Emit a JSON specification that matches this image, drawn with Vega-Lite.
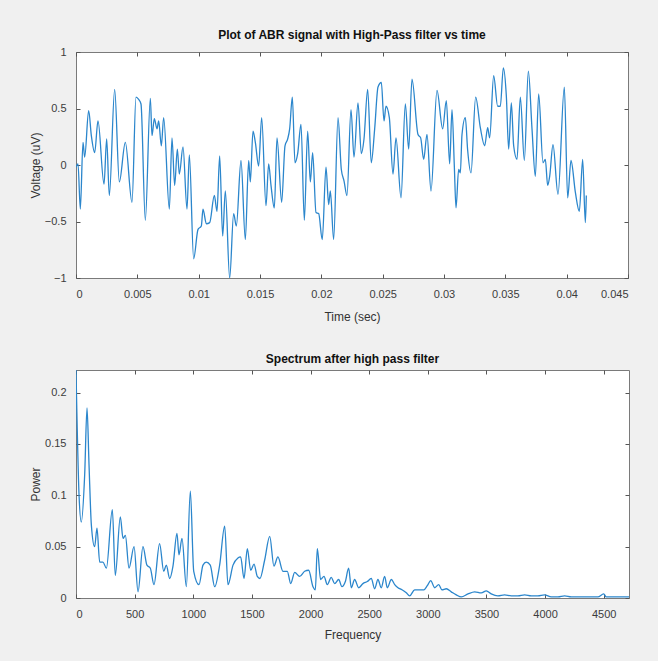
{
  "$schema": "https://vega.github.io/schema/vega-lite/v6.json",
  "background": "#f0f0f0",
  "padding": {"left": 28, "top": 28, "right": 28, "bottom": 21},
  "spacing": 29,
  "config": {
    "font": "Liberation Sans",
    "view": {"stroke": "#7a7a7a", "strokeWidth": 1, "fill": "white"},
    "axis": {
      "grid": false,
      "domain": false,
      "tickColor": "#555555",
      "tickSize": -4,
      "labelPadding": 14,
      "labelColor": "#3c3c3c",
      "labelFont": "Liberation Sans",
      "labelFontSize": 11,
      "titleFont": "Liberation Sans",
      "titleFontSize": 12,
      "titleFontWeight": "normal",
      "titleColor": "#333333"
    },
    "title": {"font": "Liberation Sans", "fontSize": 12, "fontWeight": "bold", "color": "#111111", "offset": 4}
  },
  "datasets": {
    "signal": [
      {"t": 0, "v": -0.02}, {"t": 0.000163, "v": 0.01}, {"t": 0.000353, "v": -0.39}, {"t": 0.000571, "v": 0.2},
      {"t": 0.000707, "v": 0.07}, {"t": 0.001033, "v": 0.48}, {"t": 0.00125, "v": 0.26}, {"t": 0.001522, "v": 0.11},
      {"t": 0.001793, "v": 0.39}, {"t": 0.002283, "v": -0.17}, {"t": 0.0025, "v": 0.23}, {"t": 0.002717, "v": -0.27},
      {"t": 0.003152, "v": 0.67}, {"t": 0.003533, "v": -0.15}, {"t": 0.004022, "v": 0.2}, {"t": 0.004565, "v": -0.33},
      {"t": 0.004891, "v": 0.6}, {"t": 0.005109, "v": 0.58}, {"t": 0.005299, "v": 0.54}, {"t": 0.005652, "v": -0.49},
      {"t": 0.00606, "v": 0.59}, {"t": 0.006196, "v": 0.26}, {"t": 0.006386, "v": 0.41}, {"t": 0.006603, "v": 0.32},
      {"t": 0.006739, "v": 0.39}, {"t": 0.006957, "v": 0.17}, {"t": 0.007147, "v": 0.42}, {"t": 0.007609, "v": -0.39},
      {"t": 0.007826, "v": 0.24}, {"t": 0.008043, "v": -0.18}, {"t": 0.008261, "v": 0.14}, {"t": 0.008424, "v": -0.08},
      {"t": 0.008723, "v": 0.16}, {"t": 0.009049, "v": -0.39}, {"t": 0.009239, "v": 0.09}, {"t": 0.009592, "v": -0.83},
      {"t": 0.009946, "v": -0.57}, {"t": 0.010217, "v": -0.54}, {"t": 0.010353, "v": -0.39}, {"t": 0.010625, "v": -0.52},
      {"t": 0.010897, "v": -0.51}, {"t": 0.011277, "v": -0.27}, {"t": 0.011495, "v": -0.41}, {"t": 0.011712, "v": 0.08},
      {"t": 0.011957, "v": -0.63}, {"t": 0.012174, "v": -0.23}, {"t": 0.012527, "v": -1.0}, {"t": 0.012853, "v": -0.43},
      {"t": 0.013071, "v": -0.54}, {"t": 0.013451, "v": 0.04}, {"t": 0.013804, "v": -0.66}, {"t": 0.014076, "v": 0.04},
      {"t": 0.014212, "v": -0.15}, {"t": 0.014429, "v": 0.3}, {"t": 0.01462, "v": 0.2}, {"t": 0.014891, "v": -0.01},
      {"t": 0.015136, "v": 0.42}, {"t": 0.015489, "v": -0.36}, {"t": 0.015706, "v": 0.01}, {"t": 0.015897, "v": -0.18},
      {"t": 0.016168, "v": -0.38}, {"t": 0.016386, "v": 0.24}, {"t": 0.016766, "v": -0.33}, {"t": 0.017038, "v": 0.17},
      {"t": 0.017255, "v": 0.23}, {"t": 0.017418, "v": 0.32}, {"t": 0.017636, "v": 0.6}, {"t": 0.017853, "v": 0.02},
      {"t": 0.018071, "v": 0.1}, {"t": 0.018342, "v": 0.36}, {"t": 0.018614, "v": -0.49}, {"t": 0.018886, "v": 0.3},
      {"t": 0.019103, "v": -0.15}, {"t": 0.019293, "v": 0.11}, {"t": 0.019565, "v": -0.42}, {"t": 0.019783, "v": -0.43},
      {"t": 0.020076, "v": -0.66}, {"t": 0.02038, "v": -0.02}, {"t": 0.020598, "v": -0.35}, {"t": 0.020734, "v": -0.23},
      {"t": 0.021005, "v": -0.66}, {"t": 0.021359, "v": 0.42}, {"t": 0.02163, "v": -0.04}, {"t": 0.021848, "v": -0.14},
      {"t": 0.022092, "v": -0.27}, {"t": 0.022418, "v": 0.49}, {"t": 0.022663, "v": 0.07}, {"t": 0.022989, "v": 0.55},
      {"t": 0.023261, "v": 0.1}, {"t": 0.023478, "v": 0.23}, {"t": 0.023777, "v": 0.67}, {"t": 0.024071, "v": 0.02},
      {"t": 0.024348, "v": 0.32}, {"t": 0.02462, "v": 0.69}, {"t": 0.024891, "v": 0.73}, {"t": 0.025109, "v": 0.39},
      {"t": 0.025272, "v": 0.52}, {"t": 0.025543, "v": 0.42}, {"t": 0.025842, "v": -0.08}, {"t": 0.026087, "v": 0.24},
      {"t": 0.026495, "v": -0.29}, {"t": 0.026848, "v": 0.54}, {"t": 0.02712, "v": 0.14}, {"t": 0.027391, "v": 0.76},
      {"t": 0.02788, "v": 0.27}, {"t": 0.028098, "v": 0.24}, {"t": 0.028343, "v": 0.05}, {"t": 0.028614, "v": 0.27},
      {"t": 0.02894, "v": -0.23}, {"t": 0.029429, "v": 0.66}, {"t": 0.029891, "v": 0.32}, {"t": 0.03019, "v": 0.57},
      {"t": 0.030462, "v": 0.01}, {"t": 0.030652, "v": 0.49}, {"t": 0.030842, "v": -0.01}, {"t": 0.030978, "v": -0.38},
      {"t": 0.031196, "v": -0.04}, {"t": 0.031332, "v": -0.07}, {"t": 0.031468, "v": 0.27}, {"t": 0.031739, "v": 0.42},
      {"t": 0.031929, "v": 0.13}, {"t": 0.032201, "v": -0.07}, {"t": 0.032581, "v": 0.6}, {"t": 0.032962, "v": 0.33},
      {"t": 0.033315, "v": 0.17}, {"t": 0.03356, "v": 0.33}, {"t": 0.033723, "v": 0.24}, {"t": 0.034049, "v": 0.79},
      {"t": 0.034375, "v": 0.52}, {"t": 0.034592, "v": 0.52}, {"t": 0.034837, "v": 0.86}, {"t": 0.035082, "v": 0.61},
      {"t": 0.035272, "v": 0.14}, {"t": 0.035489, "v": 0.55}, {"t": 0.035679, "v": 0.17}, {"t": 0.035951, "v": 0.05},
      {"t": 0.036223, "v": 0.6}, {"t": 0.036549, "v": 0.04}, {"t": 0.036875, "v": 0.83}, {"t": 0.037174, "v": 0.32},
      {"t": 0.037446, "v": -0.1}, {"t": 0.037717, "v": 0.63}, {"t": 0.038071, "v": 0.02}, {"t": 0.038261, "v": 0.05},
      {"t": 0.038451, "v": -0.18}, {"t": 0.038614, "v": -0.1}, {"t": 0.038886, "v": 0.18}, {"t": 0.039293, "v": -0.26},
      {"t": 0.03981, "v": 0.69}, {"t": 0.040082, "v": -0.29}, {"t": 0.040353, "v": 0.04}, {"t": 0.040707, "v": -0.24},
      {"t": 0.041033, "v": -0.41}, {"t": 0.041304, "v": 0.05}, {"t": 0.041522, "v": -0.51}, {"t": 0.041603, "v": -0.27}
    ],
    "spectrum": [
      {"f": 0, "p": 0.222}, {"f": 26, "p": 0.1}, {"f": 45, "p": 0.074}, {"f": 74, "p": 0.12}, {"f": 94, "p": 0.185},
      {"f": 111, "p": 0.13}, {"f": 131, "p": 0.071}, {"f": 159, "p": 0.05}, {"f": 179, "p": 0.068}, {"f": 202, "p": 0.035},
      {"f": 230, "p": 0.035}, {"f": 259, "p": 0.029}, {"f": 310, "p": 0.086}, {"f": 335, "p": 0.022}, {"f": 378, "p": 0.079},
      {"f": 401, "p": 0.058}, {"f": 421, "p": 0.061}, {"f": 452, "p": 0.029}, {"f": 495, "p": 0.05}, {"f": 529, "p": 0.006},
      {"f": 571, "p": 0.05}, {"f": 605, "p": 0.032}, {"f": 634, "p": 0.029}, {"f": 665, "p": 0.013}, {"f": 713, "p": 0.053},
      {"f": 748, "p": 0.026}, {"f": 770, "p": 0.032}, {"f": 799, "p": 0.019}, {"f": 827, "p": 0.031}, {"f": 861, "p": 0.063},
      {"f": 878, "p": 0.042}, {"f": 904, "p": 0.058}, {"f": 941, "p": 0.011}, {"f": 975, "p": 0.104}, {"f": 1004, "p": 0.026},
      {"f": 1049, "p": 0.013}, {"f": 1083, "p": 0.032}, {"f": 1111, "p": 0.035}, {"f": 1145, "p": 0.032}, {"f": 1183, "p": 0.011},
      {"f": 1225, "p": 0.032}, {"f": 1268, "p": 0.07}, {"f": 1296, "p": 0.013}, {"f": 1339, "p": 0.032}, {"f": 1381, "p": 0.039},
      {"f": 1404, "p": 0.04}, {"f": 1433, "p": 0.019}, {"f": 1461, "p": 0.048}, {"f": 1490, "p": 0.027}, {"f": 1518, "p": 0.033},
      {"f": 1546, "p": 0.021}, {"f": 1569, "p": 0.019}, {"f": 1609, "p": 0.037}, {"f": 1652, "p": 0.06}, {"f": 1688, "p": 0.031},
      {"f": 1722, "p": 0.04}, {"f": 1765, "p": 0.026}, {"f": 1802, "p": 0.026}, {"f": 1831, "p": 0.014}, {"f": 1865, "p": 0.025},
      {"f": 1907, "p": 0.021}, {"f": 1950, "p": 0.026}, {"f": 1984, "p": 0.027}, {"f": 2021, "p": 0.011}, {"f": 2041, "p": 0.008},
      {"f": 2058, "p": 0.048}, {"f": 2086, "p": 0.018}, {"f": 2115, "p": 0.021}, {"f": 2143, "p": 0.013}, {"f": 2177, "p": 0.02},
      {"f": 2206, "p": 0.014}, {"f": 2240, "p": 0.018}, {"f": 2268, "p": 0.011}, {"f": 2297, "p": 0.016}, {"f": 2325, "p": 0.029},
      {"f": 2348, "p": 0.01}, {"f": 2376, "p": 0.018}, {"f": 2411, "p": 0.01}, {"f": 2447, "p": 0.014}, {"f": 2484, "p": 0.016},
      {"f": 2518, "p": 0.019}, {"f": 2547, "p": 0.009}, {"f": 2575, "p": 0.018}, {"f": 2603, "p": 0.01}, {"f": 2632, "p": 0.021},
      {"f": 2655, "p": 0.01}, {"f": 2689, "p": 0.018}, {"f": 2718, "p": 0.013}, {"f": 2746, "p": 0.01}, {"f": 2780, "p": 0.008},
      {"f": 2817, "p": 0.005}, {"f": 2845, "p": 0.002}, {"f": 2888, "p": 0.008}, {"f": 2931, "p": 0.008}, {"f": 2967, "p": 0.008},
      {"f": 2996, "p": 0.012}, {"f": 3025, "p": 0.017}, {"f": 3059, "p": 0.01}, {"f": 3093, "p": 0.013}, {"f": 3121, "p": 0.008},
      {"f": 3158, "p": 0.009}, {"f": 3200, "p": 0.006}, {"f": 3243, "p": 0.003}, {"f": 3286, "p": 0.001}, {"f": 3343, "p": 0.004},
      {"f": 3400, "p": 0.006}, {"f": 3456, "p": 0.005}, {"f": 3499, "p": 0.007}, {"f": 3541, "p": 0.004}, {"f": 3598, "p": 0.002},
      {"f": 3655, "p": 0.003}, {"f": 3712, "p": 0.002}, {"f": 3769, "p": 0.002}, {"f": 3826, "p": 0.003}, {"f": 3883, "p": 0.002},
      {"f": 3939, "p": 0.002}, {"f": 3996, "p": 0.003}, {"f": 4053, "p": 0.001}, {"f": 4110, "p": 0.001}, {"f": 4167, "p": 0.002},
      {"f": 4224, "p": 0.001}, {"f": 4280, "p": 0.001}, {"f": 4337, "p": 0.001}, {"f": 4394, "p": 0.001}, {"f": 4451, "p": 0.001},
      {"f": 4500, "p": 0.004}, {"f": 4522, "p": 0.001}, {"f": 4593, "p": 0.001}, {"f": 4678, "p": 0.001}, {"f": 4716, "p": 0.001}
    ]
  },
  "vconcat": [
    {
      "width": 552,
      "height": 226,
      "title": {"text": "Plot of ABR signal with High-Pass filter vs time"},
      "data": {"name": "signal"},
      "layer": [
        {
          "mark": {"type": "line", "color": "#2b86cc", "strokeWidth": 1.3, "clip": true, "interpolate": "monotone"},
          "encoding": {
            "x": {"field": "t", "type": "quantitative", "scale": {"domain": [0, 0.045], "nice": false, "zero": false},
                  "axis": {"values": [0, 0.005, 0.01, 0.015, 0.02, 0.025, 0.03, 0.035, 0.04, 0.045], "format": "~g", "title": "Time (sec)", "titlePadding": 12}},
            "y": {"field": "v", "type": "quantitative", "scale": {"domain": [-1, 1], "nice": false},
                  "axis": {"values": [-1, -0.5, 0, 0.5, 1], "format": "~g", "title": "Voltage (uV)", "titlePadding": 2}}
          }
        },
        {
          "mark": {"type": "line", "opacity": 0},
          "encoding": {
            "x": {"field": "t", "type": "quantitative", "axis": {"orient": "top", "values": [0, 0.005, 0.01, 0.015, 0.02, 0.025, 0.03, 0.035, 0.04, 0.045], "labels": false, "title": null}},
            "y": {"field": "v", "type": "quantitative", "axis": {"orient": "right", "values": [-1, -0.5, 0, 0.5, 1], "labels": false, "title": null}}
          }
        }
      ],
      "resolve": {"axis": {"x": "independent", "y": "independent"}}
    },
    {
      "width": 553,
      "height": 228,
      "title": {"text": "Spectrum after high pass filter"},
      "data": {"name": "spectrum"},
      "layer": [
        {
          "mark": {"type": "line", "color": "#2b86cc", "strokeWidth": 1.3, "clip": true, "interpolate": "monotone"},
          "encoding": {
            "x": {"field": "f", "type": "quantitative", "scale": {"domain": [0, 4716], "nice": false},
                  "axis": {"values": [0, 500, 1000, 1500, 2000, 2500, 3000, 3500, 4000, 4500], "format": "d", "title": "Frequency", "titlePadding": 10}},
            "y": {"field": "p", "type": "quantitative", "scale": {"domain": [0, 0.222], "nice": false},
                  "axis": {"values": [0, 0.05, 0.1, 0.15, 0.2], "format": "~g", "title": "Power", "titlePadding": 2}}
          }
        },
        {
          "mark": {"type": "line", "opacity": 0},
          "encoding": {
            "x": {"field": "f", "type": "quantitative", "axis": {"orient": "top", "values": [0, 500, 1000, 1500, 2000, 2500, 3000, 3500, 4000, 4500], "labels": false, "title": null}},
            "y": {"field": "p", "type": "quantitative", "axis": {"orient": "right", "values": [0, 0.05, 0.1, 0.15, 0.2], "labels": false, "title": null}}
          }
        }
      ],
      "resolve": {"axis": {"x": "independent", "y": "independent"}}
    }
  ]
}
